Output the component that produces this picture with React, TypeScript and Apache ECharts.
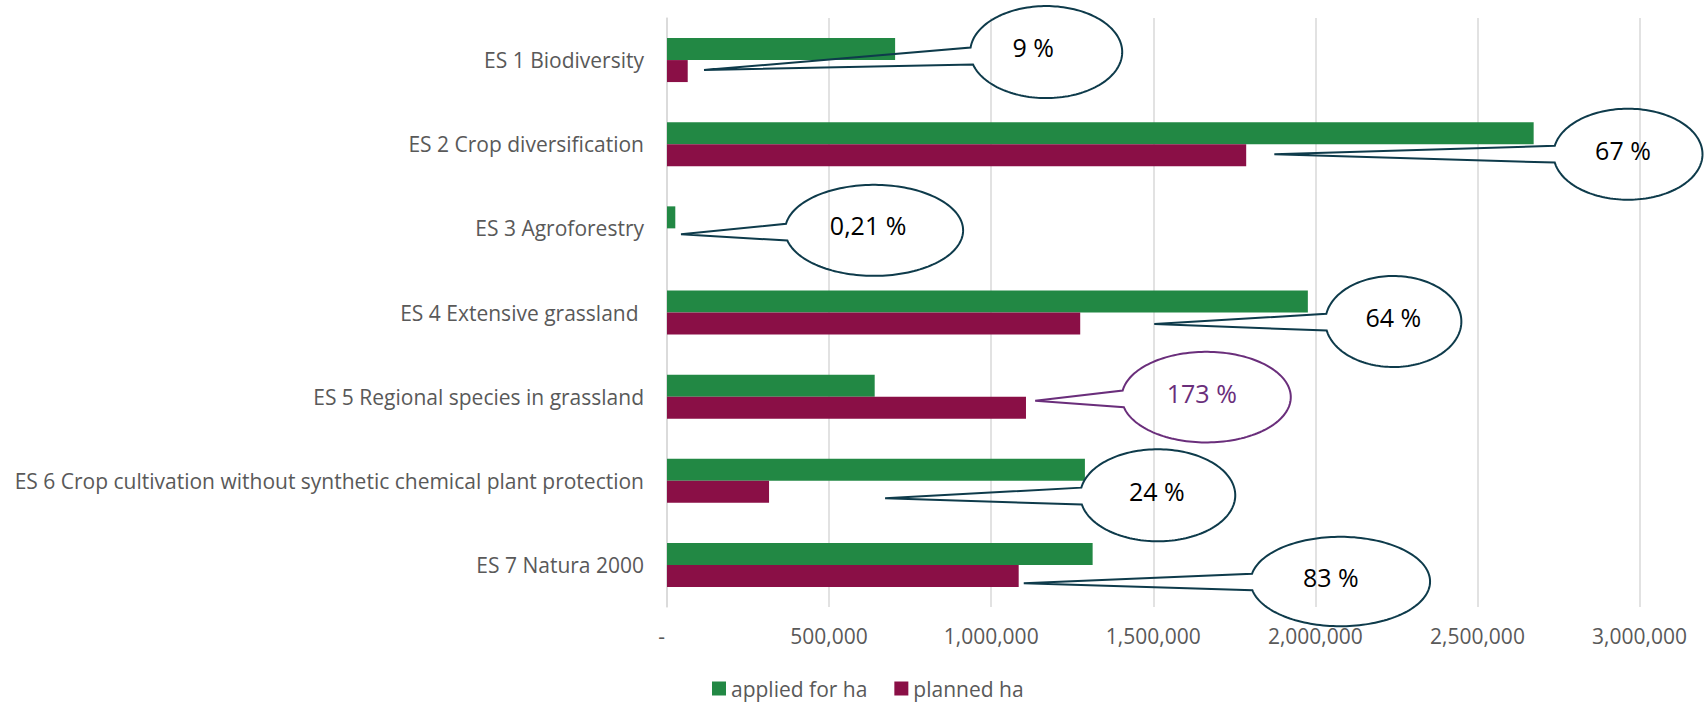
import React, { useEffect, useRef } from 'react';
import * as echarts from 'echarts';

// ---- data ----
const categories = [
  'ES 1 Biodiversity',
  'ES 2 Crop diversification',
  'ES 3 Agroforestry',
  'ES 4 Extensive grassland ',
  'ES 5 Regional species in grassland',
  'ES 6 Crop cultivation without synthetic chemical plant protection',
  'ES 7 Natura 2000',
];
const seriesNames = ['applied for ha', 'planned ha'];
const appliedHa = [703700, 2673500, 25600, 1976900, 640700, 1289200, 1313000];
const plannedHa = [63900, 1786700, 54, 1274700, 1107400, 314800, 1084900];
const xMin = 0;
const xMax = 3000000;
const xInterval = 500000;
const calloutTexts = ['9 %', '67 %', '0,21 %', '64 %', '173 %', '24 %', '83 %'];

// ---- annotation layout (callout anchors in axis units + pixel offsets) ----
const DARK = '#0E3B4B';
const PURPLE_LINE = '#6A2E7B';
const calloutLayout = [
  { cat: 0, tipValue: 114200, tipDy: 10, centerValue: 1169800, cy: -8, rx: 76, ry: 46, tx: -13, ty: -5, color: DARK, textColor: '#000000' },
  { cat: 1, tipValue: 1873500, tipDy: 10, centerValue: 2964500, cy: 10, rx: 74.5, ry: 45.5, tx: -5, ty: -4, color: DARK, textColor: '#000000' },
  { cat: 2, tipValue: 43200, tipDy: 6, centerValue: 638900, cy: 2, rx: 89, ry: 45.5, tx: -6, ty: -5, color: DARK, textColor: '#000000' },
  { cat: 3, tipValue: 1503100, tipDy: 11.5, centerValue: 2240700, cy: 9, rx: 68, ry: 45.5, tx: 0, ty: -5, color: DARK, textColor: '#000000' },
  { cat: 4, tipValue: 1135800, tipDy: 4, centerValue: 1663600, cy: 0.5, rx: 84.5, ry: 45.3, tx: -4.5, ty: -4.5, color: PURPLE_LINE, textColor: '#6A2E7B' },
  { cat: 5, tipValue: 672800, tipDy: 17.5, centerValue: 1513900, cy: 14.5, rx: 77.5, ry: 46, tx: -1, ty: -4, color: DARK, textColor: '#000000' },
  { cat: 6, tipValue: 1100600, tipDy: 18.3, centerValue: 2077200, cy: 16.6, rx: 89.7, ry: 44.7, tx: -9.5, ty: -5, color: DARK, textColor: '#000000' },
];

const GREEN = '#228844';
const WINE = '#8A0F46';
const GREY_TEXT = '#595959';
const GRID_LINE = '#D9D9D9';
const FONT = '"Open Sans", "Noto Sans", sans-serif';

function buildCallouts(chart: any) {
  const els: any[] = [];
  calloutLayout.forEach((c, i) => {
    const tip = chart.convertToPixel({ gridIndex: 0 }, [c.tipValue, c.cat]);
    const tx = tip[0];
    const ty = tip[1] + c.tipDy;
    const ctr = chart.convertToPixel({ gridIndex: 0 }, [c.centerValue, c.cat]);
    const cx = ctr[0];
    const cy = ctr[1] + c.cy;
    const a0 = Math.atan2((ty - cy) / c.ry, (tx - cx) / c.rx);
    const d = 0.185;
    const pts: number[][] = [];
    const N = 160;
    for (let k = 0; k <= N; k++) {
      const t = a0 + d + ((2 * Math.PI - 2 * d) * k) / N;
      pts.push([cx + c.rx * Math.cos(t), cy + c.ry * Math.sin(t)]);
    }
    pts.push([tx, ty]);
    els.push({
      type: 'polygon',
      silent: true,
      z: 100,
      shape: { points: pts },
      style: { fill: 'none', stroke: c.color, lineWidth: 2, lineJoin: 'miter' },
    });
    els.push({
      type: 'text',
      silent: true,
      z: 101,
      x: cx + c.tx,
      y: cy + c.ty,
      style: {
        text: calloutTexts[i],
        font: `25px ${FONT}`,
        fill: c.textColor,
        align: 'center',
        verticalAlign: 'middle',
      },
    });
  });
  return els;
}

export default function App() {
  const ref = useRef<HTMLDivElement>(null);
  useEffect(() => {
    if (!ref.current) return;
    const chart = echarts.init(ref.current, undefined, { renderer: 'svg' });
    chart.setOption({
      animation: false,
      backgroundColor: '#ffffff',
      textStyle: { fontFamily: FONT },
      grid: { left: 667, right: 65.5, top: 18, bottom: 96, containLabel: false },
      legend: {
        data: seriesNames,
        left: 707,
        top: 673,
        icon: 'rect',
        itemWidth: 14,
        itemHeight: 14,
        itemGap: 27,
        textStyle: { fontSize: 21, color: GREY_TEXT, fontFamily: FONT },
        selectedMode: false,
      },
      xAxis: {
        type: 'value',
        min: xMin,
        max: xMax,
        interval: xInterval,
        axisLine: { show: false },
        axisTick: { show: false },
        splitLine: { show: true, lineStyle: { color: GRID_LINE, width: 1.5 } },
        axisLabel: {
          margin: 18,
          fontSize: 21,
          color: GREY_TEXT,
          fontFamily: FONT,
          formatter: (v: number) => (v === 0 ? '{z|-}' : v.toLocaleString('en-US')),
          rich: { z: { fontSize: 21, color: GREY_TEXT, fontFamily: FONT, padding: [0, 11, 0, 0] } },
        },
      },
      yAxis: {
        type: 'category',
        inverse: true,
        data: categories,
        axisLine: { show: true, lineStyle: { color: GRID_LINE, width: 1.5 } },
        axisTick: { show: false },
        splitLine: { show: false },
        axisLabel: { margin: 23, fontSize: 21, color: GREY_TEXT, fontFamily: FONT },
      },
      series: [
        {
          name: seriesNames[0],
          type: 'bar',
          data: appliedHa,
          barWidth: 22,
          barGap: '0%',
          itemStyle: { color: GREEN },
        },
        {
          name: seriesNames[1],
          type: 'bar',
          data: plannedHa,
          barWidth: 22,
          barGap: '0%',
          itemStyle: { color: WINE },
        },
      ],
    });
    chart.setOption({ graphic: buildCallouts(chart) });
    return () => chart.dispose();
  }, []);
  return (
    <div
      ref={ref}
      style={{ position: 'fixed', left: 0, top: 0, width: 1705, height: 703, background: '#fff' }}
    />
  );
}
